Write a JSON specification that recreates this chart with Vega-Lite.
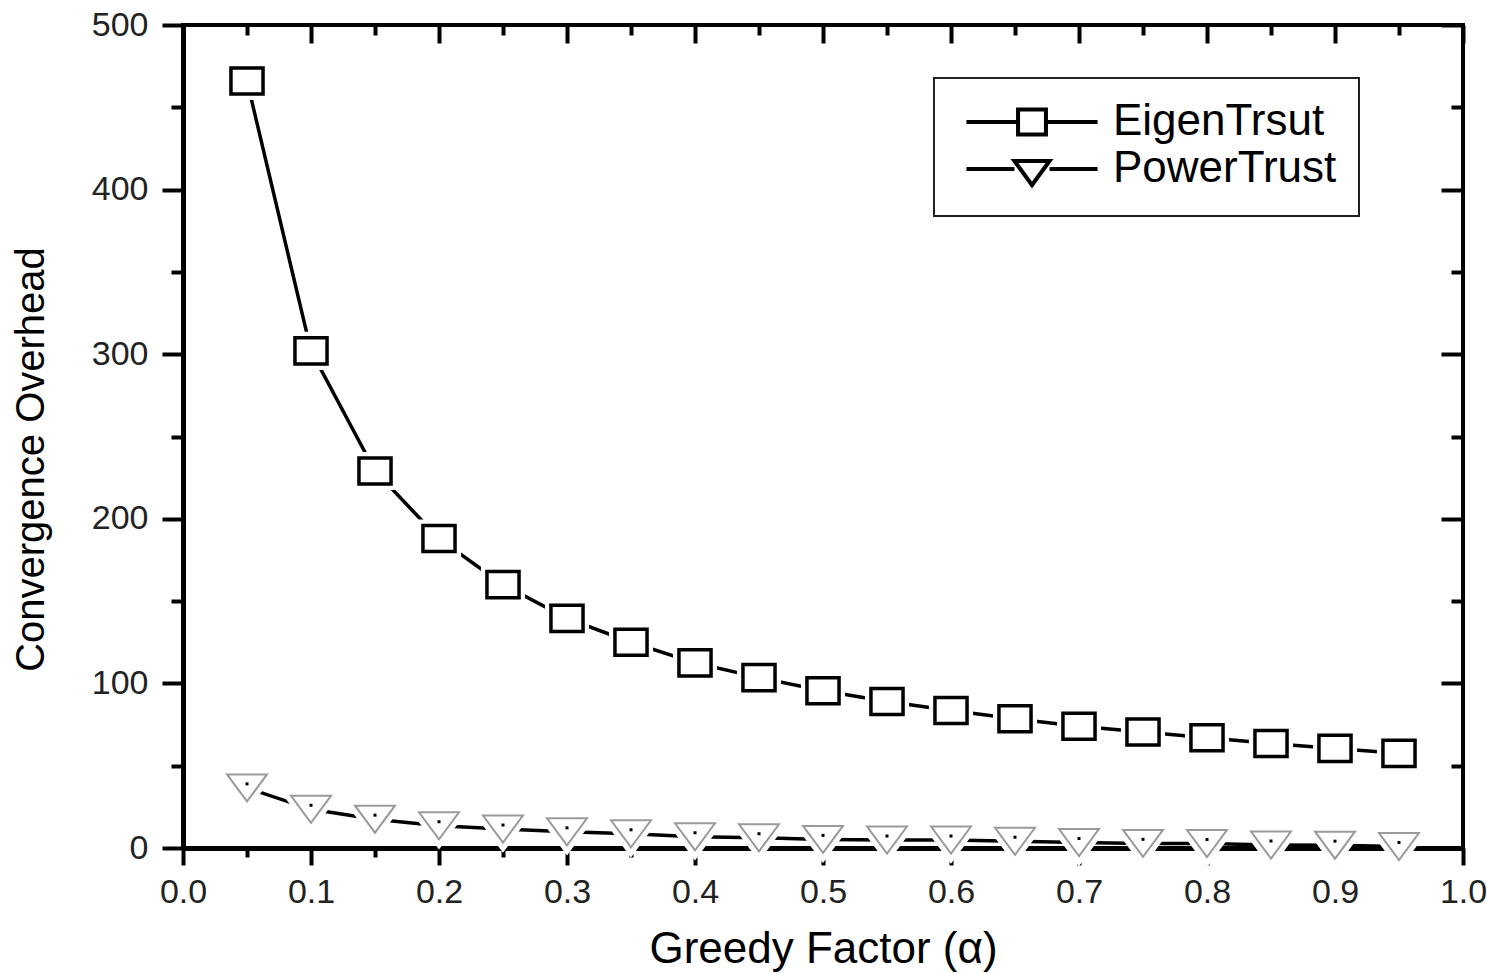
{
  "$schema": "https://vega.github.io/schema/vega-lite/v6.json",
  "width": 1280,
  "height": 823,
  "autosize": {"type": "none"},
  "padding": {"left": 183, "top": 25, "right": 24, "bottom": 125},
  "background": "white",
  "config": {
    "view": {"stroke": "black", "strokeWidth": 4},
    "axis": {
      "grid": false,
      "domain": false,
      "tickColor": "black",
      "tickWidth": 4,
      "labelFont": "Liberation Sans",
      "labelFontSize": 34,
      "labelColor": "#222",
      "labelOverlap": false,
      "labelFlush": false,
      "titleFont": "Liberation Sans",
      "titleFontWeight": "normal",
      "titleColor": "black"
    }
  },
  "data": {
    "values": [
      {"a": 0.05, "v": 466, "s": "EigenTrsut"},
      {"a": 0.10, "v": 302, "s": "EigenTrsut"},
      {"a": 0.15, "v": 229, "s": "EigenTrsut"},
      {"a": 0.20, "v": 188, "s": "EigenTrsut"},
      {"a": 0.25, "v": 160, "s": "EigenTrsut"},
      {"a": 0.30, "v": 139.5, "s": "EigenTrsut"},
      {"a": 0.35, "v": 125, "s": "EigenTrsut"},
      {"a": 0.40, "v": 112.5, "s": "EigenTrsut"},
      {"a": 0.45, "v": 103.5, "s": "EigenTrsut"},
      {"a": 0.50, "v": 95.5, "s": "EigenTrsut"},
      {"a": 0.55, "v": 89, "s": "EigenTrsut"},
      {"a": 0.60, "v": 83.5, "s": "EigenTrsut"},
      {"a": 0.65, "v": 78.5, "s": "EigenTrsut"},
      {"a": 0.70, "v": 74, "s": "EigenTrsut"},
      {"a": 0.75, "v": 70.5, "s": "EigenTrsut"},
      {"a": 0.80, "v": 67, "s": "EigenTrsut"},
      {"a": 0.85, "v": 63.5, "s": "EigenTrsut"},
      {"a": 0.90, "v": 60.5, "s": "EigenTrsut"},
      {"a": 0.95, "v": 57.5, "s": "EigenTrsut"},
      {"a": 0.05, "v": 36.5, "s": "PowerTrust"},
      {"a": 0.10, "v": 23.5, "s": "PowerTrust"},
      {"a": 0.15, "v": 17.5, "s": "PowerTrust"},
      {"a": 0.20, "v": 13.5, "s": "PowerTrust"},
      {"a": 0.25, "v": 11.5, "s": "PowerTrust"},
      {"a": 0.30, "v": 9.8, "s": "PowerTrust"},
      {"a": 0.35, "v": 8.6, "s": "PowerTrust"},
      {"a": 0.40, "v": 6.8, "s": "PowerTrust"},
      {"a": 0.45, "v": 6.2, "s": "PowerTrust"},
      {"a": 0.50, "v": 5.2, "s": "PowerTrust"},
      {"a": 0.55, "v": 4.8, "s": "PowerTrust"},
      {"a": 0.60, "v": 4.8, "s": "PowerTrust"},
      {"a": 0.65, "v": 4.1, "s": "PowerTrust"},
      {"a": 0.70, "v": 3.3, "s": "PowerTrust"},
      {"a": 0.75, "v": 2.8, "s": "PowerTrust"},
      {"a": 0.80, "v": 2.7, "s": "PowerTrust"},
      {"a": 0.85, "v": 1.8, "s": "PowerTrust"},
      {"a": 0.90, "v": 1.7, "s": "PowerTrust"},
      {"a": 0.95, "v": 0.9, "s": "PowerTrust"}
    ]
  },
  "resolve": {
    "axis": {"x": "independent", "y": "independent"},
    "scale": {"shape": "independent"}
  },
  "layer": [
    {
      "mark": {"type": "line", "color": "black", "strokeWidth": 3.5},
      "encoding": {
        "x": {
          "field": "a", "type": "quantitative",
          "scale": {"domain": [0, 1], "nice": false, "zero": false},
          "axis": {
            "orient": "bottom",
            "values": [0, 0.1, 0.2, 0.3, 0.4, 0.5, 0.6, 0.7, 0.8, 0.9, 1.0],
            "format": ".1f",
            "tickSize": 17,
            "labelPadding": 10,
            "domain": true, "domainWidth": 5, "domainColor": "black",
            "title": "Greedy Factor (α)",
            "titleFontSize": 44,
            "titleY": 114,
            "titleBaseline": "alphabetic"
          }
        },
        "y": {
          "field": "v", "type": "quantitative",
          "scale": {"domain": [0, 500], "nice": false},
          "axis": {
            "orient": "left",
            "values": [0, 100, 200, 300, 400, 500],
            "tickSize": 21,
            "labelPadding": 14,
            "domain": true, "domainWidth": 5, "domainColor": "black",
            "title": "Convergence Overhead",
            "titleFontSize": 40,
            "titleX": -140,
            "titleY": 434,
            "titleAngle": -90,
            "titleAlign": "center",
            "titleBaseline": "alphabetic"
          }
        },
        "detail": {"field": "s", "type": "nominal"}
      }
    },
    {
      "mark": {"type": "point", "filled": true, "fill": "white", "stroke": "white", "strokeWidth": 12, "size": 900, "opacity": 1},
      "encoding": {
        "x": {
          "field": "a", "type": "quantitative",
          "scale": {"domain": [0, 1], "nice": false, "zero": false},
          "axis": {
            "orient": "bottom",
            "values": [0.05, 0.15, 0.25, 0.35, 0.45, 0.55, 0.65, 0.75, 0.85, 0.95],
            "tickSize": 9, "labels": false, "title": null
          }
        },
        "y": {
          "field": "v", "type": "quantitative",
          "scale": {"domain": [0, 500], "nice": false},
          "axis": {
            "orient": "left",
            "values": [50, 150, 250, 350, 450],
            "tickSize": 12, "labels": false, "title": null
          }
        },
        "shape": {
          "field": "s", "type": "nominal",
          "scale": {
            "domain": ["EigenTrsut", "PowerTrust"],
            "range": ["M-1.07,-0.87H1.07V0.87H-1.07Z", "M-1.33,-0.9H1.33L0,0.9Z"]
          },
          "legend": null
        }
      }
    },
    {
      "transform": [{"filter": "datum.s === 'EigenTrsut'"}],
      "mark": {"type": "point", "shape": "M-1.07,-0.87H1.07V0.87H-1.07Z", "filled": true, "fill": "white", "stroke": "black", "strokeWidth": 3.5, "size": 900, "opacity": 1},
      "encoding": {
        "x": {
          "field": "a", "type": "quantitative",
          "scale": {"domain": [0, 1], "nice": false, "zero": false},
          "axis": {
            "orient": "top",
            "values": [0, 0.1, 0.2, 0.3, 0.4, 0.5, 0.6, 0.7, 0.8, 0.9, 1.0],
            "tickSize": -18, "labels": false, "title": null
          }
        },
        "y": {
          "field": "v", "type": "quantitative",
          "scale": {"domain": [0, 500], "nice": false},
          "axis": {
            "orient": "right",
            "values": [0, 100, 200, 300, 400, 500],
            "tickSize": -22, "labels": false, "title": null
          }
        }
      }
    },
    {
      "transform": [{"filter": "datum.s === 'PowerTrust'"}],
      "mark": {"type": "point", "shape": "M-1.33,-0.9H1.33L0,0.9Z", "filled": true, "fill": "white", "stroke": "#9a9a9a", "strokeWidth": 2, "size": 900, "opacity": 1},
      "encoding": {
        "x": {
          "field": "a", "type": "quantitative",
          "scale": {"domain": [0, 1], "nice": false, "zero": false},
          "axis": {
            "orient": "top",
            "values": [0.05, 0.15, 0.25, 0.35, 0.45, 0.55, 0.65, 0.75, 0.85, 0.95],
            "tickSize": -10, "labels": false, "title": null
          }
        },
        "y": {
          "field": "v", "type": "quantitative",
          "scale": {"domain": [0, 500], "nice": false},
          "axis": {
            "orient": "right",
            "values": [50, 150, 250, 350, 450],
            "tickSize": -12, "labels": false, "title": null
          }
        }
      }
    },
    {
      "transform": [{"filter": "datum.s === 'PowerTrust'"}],
      "mark": {"type": "point", "shape": "M-0.1,-0.37H0.1V-0.17H-0.1Z", "filled": true, "fill": "black", "strokeWidth": 0, "size": 900, "opacity": 1},
      "encoding": {
        "x": {"field": "a", "type": "quantitative", "scale": {"domain": [0, 1], "nice": false, "zero": false}, "axis": null},
        "y": {"field": "v", "type": "quantitative", "scale": {"domain": [0, 500], "nice": false}, "axis": null}
      }
    },
    {
      "transform": [{"filter": "datum.a > 5"}],
      "mark": {"type": "point", "filled": true, "fill": "white", "stroke": "black", "strokeWidth": 4, "size": 900, "opacity": 1},
      "encoding": {
        "x": {"field": "a", "type": "quantitative", "scale": {"domain": [0, 1], "nice": false, "zero": false}, "axis": null},
        "y": {"field": "v", "type": "quantitative", "scale": {"domain": [0, 500], "nice": false}, "axis": null},
        "shape": {
          "field": "s", "type": "nominal",
          "scale": {
            "domain": ["EigenTrsut", "PowerTrust"],
            "range": ["M-4.37,0H-0.93M0.93,0H4.37M-0.93,-0.83H0.93V0.83H-0.93Z", "M-4.37,0H-1.17M1.17,0H4.37M-1.17,-0.53H1.17L0,1.07Z"]
          },
          "legend": {
            "title": null,
            "orient": "none",
            "legendX": 751,
            "legendY": 53,
            "padding": 22,
            "strokeColor": "#222",
            "fillColor": "white",
            "symbolSize": 900,
            "symbolOffset": 54,
            "labelOffset": 59,
            "symbolStrokeWidth": 4,
            "symbolStrokeColor": "black",
            "symbolFillColor": "white",
            "symbolOpacity": 1,
            "labelFont": "Liberation Sans",
            "labelFontSize": 44,
            "labelColor": "black",
            "labelLimit": 0,
            "rowPadding": 3,
            "encoding": {
              "symbols": {
                "fill": {"value": "white"},
                "stroke": {"value": "black"},
                "strokeWidth": {"value": 4},
                "opacity": {"value": 1}
              },
              "legend": {"strokeWidth": {"value": 2}}
            }
          }
        }
      }
    }
  ]
}
